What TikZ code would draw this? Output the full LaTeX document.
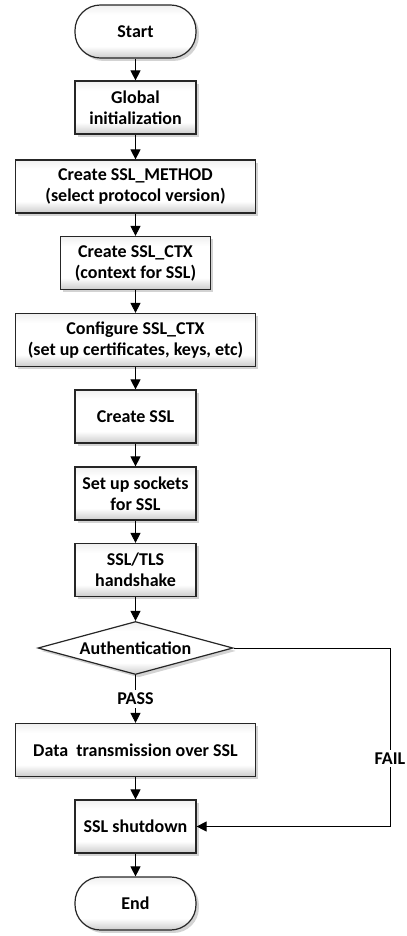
\documentclass[tikz,border=0pt]{standalone}
\usepackage{fontspec}
\setmainfont{Carlito}
\usetikzlibrary{arrows.meta,shapes.geometric,shadows}
\pgfdeclarehorizontalshading{bevel}{100bp}{color(0bp)=(gray!40); color(25bp)=(gray!40); color(36bp)=(white); color(66bp)=(white); color(75bp)=(gray!12); color(100bp)=(gray!12)}

\begin{document}
\begin{tikzpicture}[x=0.75pt,y=-0.75pt,
  base/.style={draw=black!85,line width=0.9pt,align=center,shading=bevel,shading angle=90,
    drop shadow={shadow xshift=2.2pt,shadow yshift=-2.2pt,opacity=0.35},
    font=\bfseries\fontsize{13.5}{15.75}\selectfont,minimum height=39.75pt},
  narrow/.style={base,minimum width=90.75pt},
  wide/.style={base,minimum width=180pt},
  term/.style={base,minimum width=90.75pt,rounded corners=19pt},
  decide/.style={base,diamond,aspect=3.68,inner sep=0pt,minimum width=146.25pt,minimum height=39.75pt},
  arr/.style={-{Triangle[width=7.5pt,length=7.5pt]},line width=0.75pt},
  lbl/.style={fill=white,inner sep=2pt,font=\bfseries\fontsize{13.5}{15.75}\selectfont}]
  \useasboundingbox (0,0) rectangle (407,936);
  % Main flow
  \node[term] (start) at (135.5,31.5) {Start};
  \node[narrow] (init) at (135.5,107.5) {Global\\initialization};
  \node[wide] (method) at (135.5,186.5) {Create SSL\_METHOD\\(select protocol version)};
  \node[base,minimum width=112.5pt] (ctx) at (135.5,263) {Create SSL\_CTX\\(context for SSL)};
  \node[wide] (config) at (135.5,340) {Configure SSL\_CTX\\(set up certificates, keys, etc)};
  \node[narrow] (ssl) at (135.5,416.5) {Create SSL};
  \node[narrow] (sock) at (135.5,493.5) {Set up sockets\\for SSL};
  \node[narrow] (hshake) at (135.5,570) {SSL/TLS\\handshake};
  \node[decide] (auth) at (135.5,648) {Authentication};
  \node[wide] (data) at (135.5,750) {Data\ \ transmission over SSL};
  \node[narrow] (shut) at (135.5,826.5) {SSL shutdown};
  \node[term] (end) at (135.5,903.5) {End};
  % Arrows between steps
  \foreach \a/\b in {start/init,init/method,method/ctx,ctx/config,config/ssl,ssl/sock,sock/hshake,hshake/auth,data/shut,shut/end}
    \draw[arr] (\a) -- (\b);
  \draw[arr] (auth) -- node[lbl] (pass) {PASS} (data);
  % Fail branch
  \coordinate (failtop) at (390,648);
  \coordinate (failbot) at (390,826.5);
  \draw[arr] (auth.east) -- (failtop) -- node[lbl,pos=0.62] (fail) {FAIL} (failbot) -- (shut.east);
\end{tikzpicture}
\end{document}
